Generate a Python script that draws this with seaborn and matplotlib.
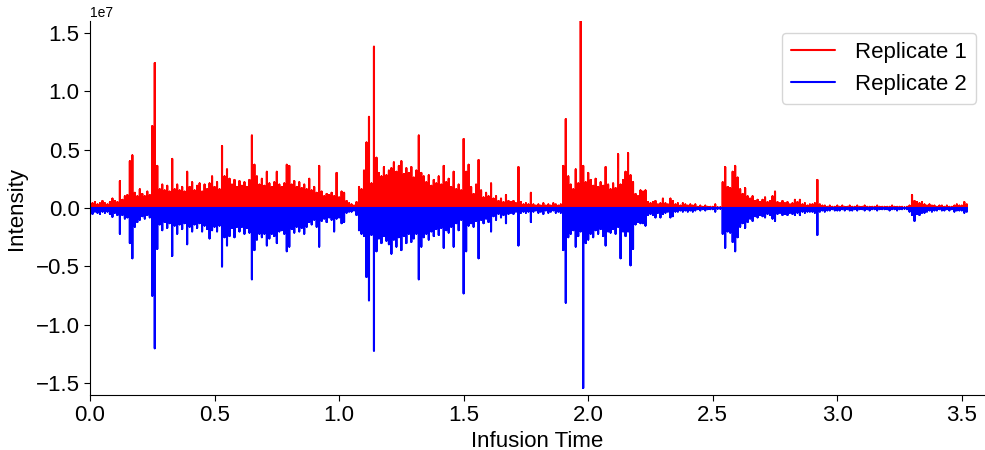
import numpy as np
import pandas as pd
import matplotlib
matplotlib.use("Agg")
import matplotlib.pyplot as plt
import seaborn as sns

# Infusion time axis: one reading every 0.01 time units, starting at 0.00
time_start = 0.0
time_step = 0.01

# Replicate 1 intensity (units of 1e6), one row per 0.1 time units
replicate_1 = [
    0.3, 0.4, 0.5, 0.3, 0.4, 0.6, 0.4, 0.3, 0.5, 0.8,     # 0.0
    0.6, 0.5, 2.3, 0.7, 1.0, 1.1, 4.0, 4.5, 1.3, 1.0,     # 0.1
    1.6, 1.2, 1.0, 1.4, 1.1, 7.0, 12.4, 3.6, 1.6, 2.0,    # 0.2
    1.5, 1.9, 1.4, 4.2, 1.6, 2.0, 1.5, 1.8, 1.4, 3.1,     # 0.3
    1.8, 2.2, 1.5, 1.9, 2.1, 1.4, 2.0, 1.6, 2.1, 2.7,     # 0.4
    1.8, 2.2, 1.6, 5.3, 2.7, 3.3, 2.5, 2.0, 2.4, 1.8,     # 0.5
    2.3, 1.9, 2.2, 1.8, 2.4, 6.2, 3.7, 2.7, 2.0, 2.5,     # 0.6
    1.9, 3.1, 2.1, 1.8, 2.2, 3.1, 2.0, 1.8, 2.1, 3.7,     # 0.7
    3.6, 2.0, 2.3, 1.8, 2.2, 1.7, 2.0, 1.6, 2.5, 1.5,     # 0.8
    1.8, 1.3, 3.6, 1.4, 1.0, 1.2, 1.1, 1.3, 1.0, 3.0,     # 0.9
    0.9, 1.4, 1.3, 0.6, 0.4, 0.3, 0.2, 0.5, 1.8, 1.6,     # 1.0
    3.2, 5.6, 7.8, 2.1, 13.8, 4.3, 3.0, 2.7, 3.5, 2.8,    # 1.1
    3.2, 3.4, 3.9, 3.1, 3.6, 4.0, 2.9, 3.4, 3.0, 3.5,     # 1.2
    2.6, 3.2, 6.2, 3.0, 2.7, 2.2, 2.8, 1.9, 2.4, 2.1,     # 1.3
    2.7, 2.0, 3.6, 2.2, 2.5, 1.8, 3.1, 1.6, 2.0, 1.5,     # 1.4
    5.9, 3.1, 3.7, 1.8, 1.2, 2.0, 4.1, 1.5, 0.9, 1.3,     # 1.5
    1.0, 2.1, 0.8, 1.0, 0.6, 0.8, 0.5, 1.1, 0.6, 0.5,     # 1.6
    0.6, 0.4, 3.5, 0.5, 0.3, 0.4, 0.3, 1.3, 0.3, 0.2,     # 1.7
    0.3, 0.2, 0.4, 0.2, 0.3, 0.2, 0.4, 0.3, 0.2, 0.3,     # 1.8
    3.6, 7.6, 2.7, 2.0, 1.6, 3.3, 2.1, 16.1, 3.6, 2.2,    # 1.9
    3.0, 2.4, 1.9, 2.5, 1.8, 2.2, 1.9, 3.5, 2.0, 1.6,     # 2.0
    2.1, 1.7, 4.6, 2.0, 2.4, 3.1, 4.7, 2.8, 2.2, 1.2,     # 2.1
    1.0, 1.5, 1.4, 1.5, 0.5, 0.4, 0.5, 0.6, 0.3, 0.4,     # 2.2
    0.8, 0.4, 0.3, 0.8, 0.6, 0.3, 0.4, 0.2, 0.4, 0.3,     # 2.3
    0.2, 0.3, 0.2, 0.3, 0.1, 0.2, 0.1, 0.2, 0.1, 0.1,     # 2.4
    0.1, 0.3, 0.05, 0.05, 2.2, 3.5, 1.8, 1.7, 3.1, 3.6,   # 2.5
    2.6, 1.6, 1.2, 1.7, 1.0, 0.8, 1.0, 0.6, 0.7, 0.5,     # 2.6
    0.7, 0.9, 0.5, 0.6, 1.0, 1.4, 0.5, 0.4, 0.6, 0.4,     # 2.7
    0.5, 0.3, 0.4, 0.7, 0.5, 0.7, 0.3, 0.4, 0.2, 0.3,     # 2.8
    0.3, 0.4, 2.4, 0.3, 0.2, 0.2, 0.1, 0.2, 0.1, 0.1,     # 2.9
    0.2, 0.1, 0.2, 0.1, 0.1, 0.2, 0.1, 0.1, 0.2, 0.1,     # 3.0
    0.1, 0.2, 0.1, 0.1, 0.1, 0.1, 0.2, 0.1, 0.1, 0.1,     # 3.1
    0.1, 0.1, 0.2, 0.1, 0.1, 0.1, 0.1, 0.05, 0.1, 0.2,    # 3.2
    1.1, 0.6, 0.5, 0.4, 0.5, 0.3, 0.2, 0.3, 0.2, 0.2,     # 3.3
    0.1, 0.2, 0.2, 0.1, 0.2, 0.1, 0.1, 0.2, 0.3, 0.2,     # 3.4
    0.2, 0.5, 0.3,                                        # 3.5
]

# Replicate 2 intensity magnitude (units of 1e6), plotted mirrored below zero
replicate_2 = [
    0.3, 0.5, 0.3, 0.4, 0.5, 0.3, 0.4, 0.3, 0.5, 0.75,    # 0.0
    0.4, 0.6, 2.2, 0.6, 0.9, 0.8, 3.0, 4.3, 1.6, 1.2,     # 0.1
    1.0, 0.7, 0.9, 0.6, 0.8, 7.5, 12.0, 3.5, 1.4, 1.9,    # 0.2
    1.2, 1.7, 1.3, 4.1, 1.5, 2.2, 1.4, 1.8, 1.3, 3.1,     # 0.3
    1.6, 2.0, 1.4, 1.7, 1.3, 2.0, 1.5, 1.8, 2.6, 1.9,     # 0.4
    1.6, 2.0, 1.5, 5.0, 2.5, 3.2, 2.4, 1.7, 2.5, 1.6,     # 0.5
    2.0, 1.6, 2.2, 1.7, 2.1, 6.1, 3.6, 2.7, 2.2, 2.5,     # 0.6
    2.2, 3.2, 2.6, 2.2, 2.4, 3.0, 2.0, 1.9, 2.2, 3.7,     # 0.7
    3.3, 1.8, 2.1, 1.6, 2.0, 1.7, 2.2, 1.6, 1.2, 1.4,     # 0.8
    1.0, 1.6, 3.3, 1.1, 0.9, 1.2, 0.8, 1.0, 2.0, 0.9,     # 0.9
    0.8, 1.3, 1.2, 0.4, 0.3, 0.3, 0.2, 0.6, 1.9, 2.2,     # 1.0
    2.4, 5.9, 7.9, 2.3, 12.2, 3.7, 2.6, 3.0, 2.4, 2.8,    # 1.1
    3.1, 3.9, 2.7, 3.3, 2.5, 3.6, 2.4, 3.0, 2.2, 2.9,     # 1.2
    2.6, 2.2, 6.1, 3.3, 2.5, 2.2, 2.7, 2.0, 2.4, 1.8,     # 1.3
    2.3, 1.7, 3.4, 1.9, 2.1, 1.6, 3.3, 1.3, 1.9, 1.0,     # 1.4
    7.3, 3.7, 1.5, 1.3, 1.6, 1.1, 4.3, 1.0, 1.3, 0.9,     # 1.5
    1.2, 2.0, 0.7, 1.0, 0.5, 0.8, 0.6, 1.3, 0.5, 0.4,     # 1.6
    0.5, 0.3, 3.2, 0.4, 0.3, 0.4, 0.3, 1.2, 0.3, 0.2,     # 1.7
    0.4, 0.3, 0.5, 0.2, 0.4, 0.3, 0.2, 0.4, 0.3, 0.4,     # 1.8
    3.6, 8.1, 2.5, 2.2, 1.9, 3.3, 2.4, 2.0, 15.4, 3.0,    # 1.9
    2.7, 2.2, 2.5, 1.9, 2.2, 1.8, 2.4, 3.2, 2.0, 2.1,     # 2.0
    1.8, 2.2, 1.6, 4.3, 2.0, 2.4, 2.0, 4.9, 3.5, 1.4,     # 2.1
    1.2, 1.3, 1.3, 1.5, 0.6, 0.5, 0.6, 0.8, 0.4, 0.8,     # 2.2
    0.5, 0.4, 0.3, 0.8, 0.7, 0.3, 0.3, 0.2, 0.3, 0.2,     # 2.3
    0.3, 0.2, 0.3, 0.2, 0.1, 0.2, 0.1, 0.2, 0.1, 0.1,     # 2.4
    0.1, 0.3, 0.05, 0.05, 2.2, 3.4, 2.0, 2.1, 2.9, 3.7,   # 2.5
    2.5, 1.6, 1.3, 1.7, 1.2, 0.9, 1.1, 0.7, 0.8, 0.6,     # 2.6
    0.7, 0.8, 0.5, 0.6, 0.9, 1.1, 0.5, 0.4, 0.6, 0.5,     # 2.7
    0.6, 0.4, 0.5, 0.6, 0.4, 0.6, 0.3, 0.4, 0.3, 0.3,     # 2.8
    0.3, 0.4, 2.3, 0.3, 0.2, 0.3, 0.2, 0.2, 0.1, 0.2,     # 2.9
    0.2, 0.2, 0.1, 0.2, 0.1, 0.2, 0.2, 0.1, 0.2, 0.1,     # 3.0
    0.1, 0.2, 0.1, 0.2, 0.1, 0.1, 0.2, 0.1, 0.1, 0.1,     # 3.1
    0.1, 0.2, 0.1, 0.1, 0.2, 0.1, 0.1, 0.05, 0.1, 0.3,    # 3.2
    0.6, 1.1, 0.5, 0.6, 0.4, 0.4, 0.3, 0.2, 0.3, 0.2,     # 3.3
    0.2, 0.1, 0.2, 0.2, 0.1, 0.2, 0.1, 0.3, 0.2, 0.2,     # 3.4
    0.2, 0.4, 0.3,                                        # 3.5
]

series_names = ["Replicate 1", "Replicate 2"]
series_colors = {"Replicate 1": "red", "Replicate 2": "blue"}
intensity_scale = 1e6

# Build a long-format table: each reading becomes a spike rising from the zero baseline
rows = []
for name, values, sign in [(series_names[0], replicate_1, 1), (series_names[1], replicate_2, -1)]:
    for i, v in enumerate(values):
        t = round(time_start + i * time_step, 2)
        rows.append((name, t, 0.0))
        rows.append((name, t, sign * v * intensity_scale))
        rows.append((name, t, 0.0))
df = pd.DataFrame(rows, columns=["Replicate", "Infusion Time", "Intensity"])

sns.set_style("ticks")
plt.rcParams["font.family"] = ["Liberation Sans", "DejaVu Sans"]
plt.rcParams["text.color"] = "black"
plt.rcParams["axes.labelcolor"] = "black"
plt.rcParams["xtick.color"] = "black"
plt.rcParams["ytick.color"] = "black"
plt.rcParams["axes.edgecolor"] = "black"

fig = plt.figure(figsize=(9.85, 4.5), dpi=100)
ax = fig.add_axes([90 / 985, 1 - 395 / 450, 1 - 90 / 985, (395 - 21) / 450])

sns.lineplot(data=df, x="Infusion Time", y="Intensity", hue="Replicate",
             palette=series_colors, estimator=None, sort=False, units="Replicate",
             linewidth=1.5, ax=ax)

ax.set_xlim(0, 3.593)
ax.set_ylim(-1.6e7, 1.6e7)
ax.set_xticks([0.0, 0.5, 1.0, 1.5, 2.0, 2.5, 3.0, 3.5])
ax.set_yticks([-1.5e7, -1.0e7, -0.5e7, 0, 0.5e7, 1.0e7, 1.5e7])
ax.tick_params(axis="both", labelsize=16, colors="black", length=4)
ax.yaxis.get_offset_text().set_fontsize(10)
ax.yaxis.get_offset_text().set_color("black")
ax.set_xlabel("Infusion Time", fontsize=16, labelpad=3, color="black")
ax.set_ylabel("Intensity", fontsize=16, labelpad=6, color="black")

handles, labels = ax.get_legend_handles_labels()
leg = ax.legend(handles, labels, loc="upper right", fontsize=16, frameon=True,
                bbox_to_anchor=(976 / 985, 1 - 33 / 450), bbox_transform=fig.transFigure,
                borderaxespad=0, handlelength=2.0, handletextpad=0.9)
for txt in leg.get_texts():
    txt.set_color("black")

sns.despine(ax=ax)
fig.savefig("out.png", dpi=100)
